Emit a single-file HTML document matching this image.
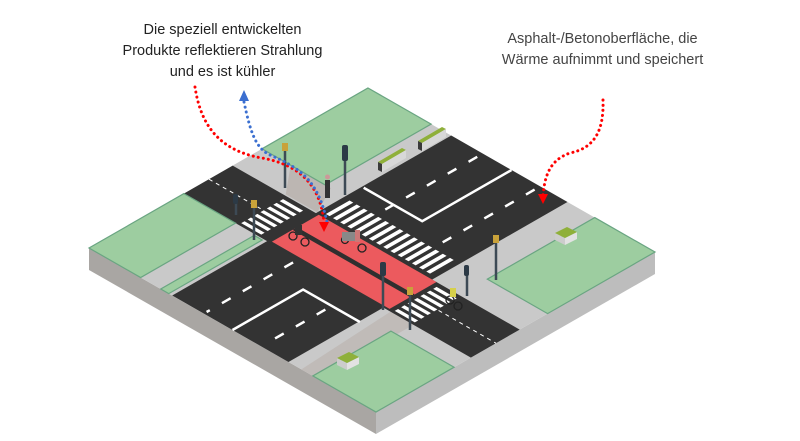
<!DOCTYPE html>
<html><head><meta charset="utf-8"><style>
html,body{margin:0;padding:0;background:#fff;}
body{width:800px;height:441px;overflow:hidden;position:relative;font-family:"Liberation Sans",sans-serif;}
.t{position:absolute;text-align:center;font-size:14.5px;line-height:21px;}
</style></head><body>
<svg width="800" height="441" viewBox="0 0 800 441" style="position:absolute;left:0;top:0">
<polygon points="89,248 376,412 376,434 89,270" fill="#a9a6a3"/>
<polygon points="376,412 655,252 655,274 376,434" fill="#bdbdbd"/>
<g transform="matrix(2.87,1.64,-2.79,1.60,368,88)">
 <rect x="0" y="0" width="100" height="100" fill="#c9c9c9"/>
 <polygon points="10,38 24,38 29,48 18,48" fill="#bcb6b2"/>
 <polygon points="72,66 80,66 80,100 74,100" fill="#c0bbb8"/>
 <rect x="29" y="0" width="40.5" height="100" fill="#333"/>
 <rect x="0" y="48.5" width="100" height="17.5" fill="#333"/>
 <rect x="30" y="48.5" width="41" height="16.8" fill="#ec5a5e"/>
 <rect x="30" y="56.3" width="41" height="1.6" fill="#2f2f2f"/>
 <g fill="#9dcda0" stroke="#6aa582" stroke-width="1.2">
  <rect x="0" y="0" width="22" height="38" vector-effect="non-scaling-stroke"/>
  <rect x="79" y="0" width="21" height="38.5" vector-effect="non-scaling-stroke"/>
  <rect x="0" y="66" width="18" height="34" vector-effect="non-scaling-stroke"/>
  <rect x="78" y="72" width="22" height="28" vector-effect="non-scaling-stroke"/>
  <rect x="25" y="66.5" width="2.8" height="33.5" vector-effect="non-scaling-stroke"/>
 </g>
 <g stroke="#fff" fill="none" stroke-width="2.5">
  <path d="M50,0 V32 H29.6" vector-effect="non-scaling-stroke"/>
  <path d="M50,100 V74.7 H69.8" vector-effect="non-scaling-stroke"/>
  <path d="M40,2 V36 M60,2 V36 M40,68 V99 M60,77 V99" stroke-dasharray="10 14" vector-effect="non-scaling-stroke"/>
  <path d="M0,57 H18 M80,57 H100" stroke-width="1" stroke-dasharray="4 4" vector-effect="non-scaling-stroke"/>
 </g>
 <g fill="#fff">
  <rect x="31" y="38.5" width="1.3" height="8.5"/><rect x="33.5" y="38.5" width="1.3" height="8.5"/><rect x="36" y="38.5" width="1.3" height="8.5"/><rect x="38.5" y="38.5" width="1.3" height="8.5"/><rect x="41" y="38.5" width="1.3" height="8.5"/><rect x="43.5" y="38.5" width="1.3" height="8.5"/><rect x="46" y="38.5" width="1.3" height="8.5"/><rect x="48.5" y="38.5" width="1.3" height="8.5"/><rect x="51" y="38.5" width="1.3" height="8.5"/><rect x="53.5" y="38.5" width="1.3" height="8.5"/><rect x="56" y="38.5" width="1.3" height="8.5"/><rect x="58.5" y="38.5" width="1.3" height="8.5"/><rect x="61" y="38.5" width="1.3" height="8.5"/><rect x="63.5" y="38.5" width="1.3" height="8.5"/><rect x="66" y="38.5" width="1.3" height="8.5"/>
  <rect x="19" y="50" width="7" height="1.2"/><rect x="19" y="52.3" width="7" height="1.2"/><rect x="19" y="54.6" width="7" height="1.2"/><rect x="19" y="56.9" width="7" height="1.2"/><rect x="19" y="59.2" width="7" height="1.2"/><rect x="19" y="61.5" width="7" height="1.2"/><rect x="19" y="63.8" width="7" height="1.2"/>
  <rect x="72.5" y="50" width="7" height="1.2"/><rect x="72.5" y="52.3" width="7" height="1.2"/><rect x="72.5" y="54.6" width="7" height="1.2"/><rect x="72.5" y="56.9" width="7" height="1.2"/><rect x="72.5" y="59.2" width="7" height="1.2"/><rect x="72.5" y="61.5" width="7" height="1.2"/><rect x="72.5" y="63.8" width="7" height="1.2"/>
 </g>
</g>
<g>
 <g transform="translate(390,160)"><polygon points="-12,2 12,-12 16,-10 -8,4" fill="#8fb03a"/><polygon points="-12,2 -8,4 -8,12 -12,10" fill="#3a3a3a"/><polygon points="-8,4 16,-10 16,-2 -8,12" fill="#d8d8d8"/></g>
 <g transform="translate(430,139)"><polygon points="-12,2 12,-12 16,-10 -8,4" fill="#8fb03a"/><polygon points="-12,2 -8,4 -8,12 -12,10" fill="#3a3a3a"/><polygon points="-8,4 16,-10 16,-2 -8,12" fill="#d8d8d8"/></g>
 <g transform="translate(565,235)"><polygon points="-10,-2 0,3 0,10 -10,5" fill="#ccc"/><polygon points="0,3 12,-3 12,4 0,10" fill="#e2e2e2"/><polygon points="-10,-2 2,-8 12,-3 0,3" fill="#8fb03a"/></g>
 <g transform="translate(347,360)"><polygon points="-10,-2 0,3 0,10 -10,5" fill="#ccc"/><polygon points="0,3 12,-3 12,4 0,10" fill="#e2e2e2"/><polygon points="-10,-2 2,-8 12,-3 0,3" fill="#8fb03a"/></g>
</g>
<g stroke="#3d4a55" stroke-width="2.5">
 <line x1="285" y1="145" x2="285" y2="188"/><line x1="345" y1="150" x2="345" y2="195"/>
 <line x1="254" y1="202" x2="254" y2="240"/><line x1="236" y1="198" x2="236" y2="215"/>
 <line x1="496" y1="237" x2="496" y2="280"/><line x1="467" y1="268" x2="467" y2="296"/>
 <line x1="410" y1="289" x2="410" y2="330"/><line x1="383" y1="265" x2="383" y2="310"/>
</g>
<g fill="#2c3a46">
 <rect x="342" y="145" width="6" height="16" rx="2"/><rect x="380" y="262" width="6" height="14" rx="2"/><rect x="464" y="265" width="5" height="11" rx="2"/><rect x="233" y="194" width="5" height="10" rx="2"/>
</g>
<g fill="#c9a23a"><rect x="282" y="143" width="6" height="8"/><rect x="251" y="200" width="6" height="8"/><rect x="493" y="235" width="6" height="8"/><rect x="407" y="287" width="6" height="8"/></g>
<rect x="325" y="180" width="5" height="18" fill="#333"/><circle cx="327.5" cy="177" r="2.5" fill="#c99"/>
<g fill="none" stroke="#222" stroke-width="1.3"><circle cx="293" cy="236" r="4"/><circle cx="305" cy="242" r="4"/><circle cx="345" cy="240" r="3.5"/><circle cx="362" cy="248" r="4"/><circle cx="450" cy="300" r="4"/><circle cx="458" cy="306" r="4"/></g>
<rect x="295" y="225" width="7" height="10" fill="#333"/>
<rect x="342" y="232" width="14" height="9" fill="#888"/><rect x="355" y="230" width="5" height="12" fill="#c77"/>
<rect x="450" y="288" width="6" height="9" fill="#d6d04a"/>
<g fill="none" stroke-width="3" stroke-dasharray="0.1 5" stroke-linecap="round">
 <path d="M195,87 C200,120 215,150 262,158 C300,165 320,185 324,222" stroke="#f00"/>
 <path d="M244,102 C250,130 255,148 270,155 C300,168 318,180 327,222" stroke="#3b6fd0"/>
 <path d="M603,100 C604,130 595,148 570,153 C550,160 545,175 543,195" stroke="#f00"/>
</g>
<polygon points="319,222 329,222 324,232" fill="#f00"/>
<polygon points="239,101 249,101 244,90" fill="#3b6fd0"/>
<polygon points="538,194 548,194 543,204" fill="#f00"/>
</svg>
<div class="t" style="left:100px;top:20px;width:245px;color:#222">Die speziell entwickelten<br>Produkte reflektieren Strahlung<br>und es ist kühler</div>
<div class="t" style="left:480px;top:29px;width:245px;color:#444">Asphalt-/Betonoberfläche, die<br>Wärme aufnimmt und speichert</div>
</body></html>
